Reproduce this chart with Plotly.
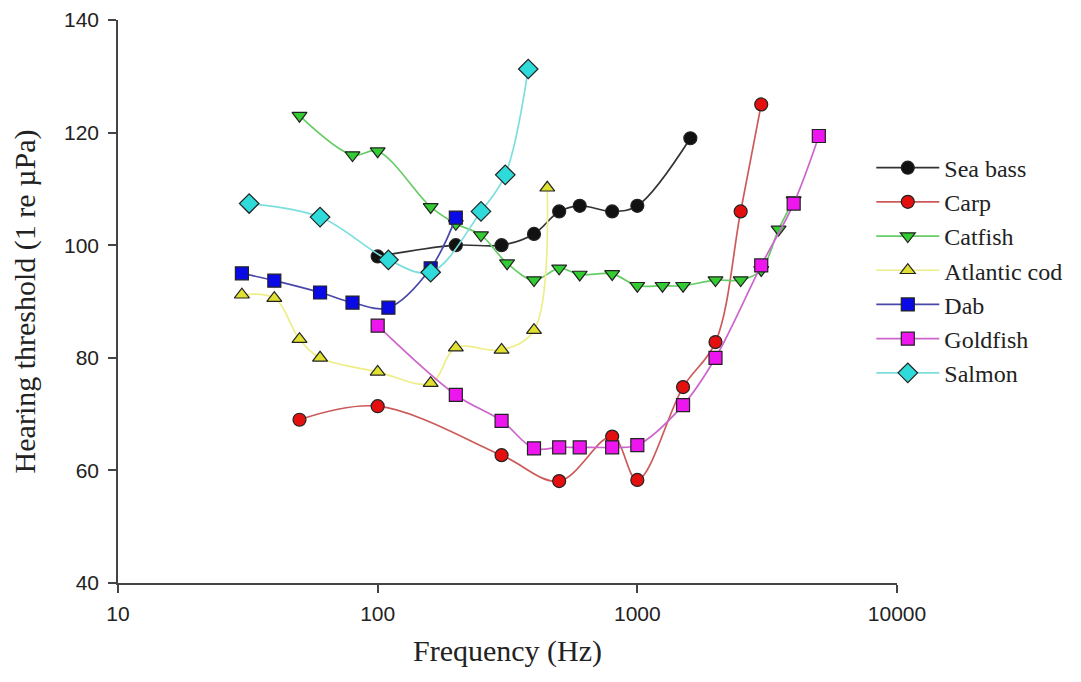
import plotly.graph_objects as go

# ---- data ----
seabass_f = [100, 200, 300, 400, 500, 600, 800, 1000, 1600]
seabass_t = [98, 100, 100, 102, 106, 107, 106, 107, 119]

carp_f = [50, 100, 300, 500, 800, 1000, 1500, 2000, 2500, 3000]
carp_t = [69, 71.4, 62.7, 58.1, 66, 58.3, 74.8, 82.8, 106, 125]

catfish_f = [50, 80, 100, 160, 200, 250, 315, 400, 500, 600, 800, 1000, 1250, 1500, 2000, 2500, 3000, 3500, 4000]
catfish_t = [123, 116, 116.7, 106.8, 103.8, 101.8, 96.8, 93.8, 95.9, 94.8, 94.9, 92.8, 92.8, 92.8, 93.8, 93.8, 95.6, 102.8, 108]

cod_f = [30, 40, 50, 60, 100, 160, 200, 300, 400, 450]
cod_t = [91.2, 90.6, 83.3, 80, 77.5, 75.5, 81.8, 81.4, 84.9, 110.2]

dab_f = [30, 40, 60, 80, 110, 160, 200]
dab_t = [95, 93.7, 91.6, 89.8, 88.9, 95.9, 104.9]

goldfish_f = [100, 200, 300, 400, 500, 600, 800, 1000, 1500, 2000, 3000, 4000, 5000]
goldfish_t = [85.7, 73.4, 68.8, 63.9, 64.1, 64.1, 64.1, 64.5, 71.6, 80, 96.4, 107.4, 119.4]

salmon_f = [32, 60, 110, 160, 250, 310, 380]
salmon_t = [107.4, 105, 97.4, 95.2, 106, 112.5, 131.3]

x_ticks = [10, 100, 1000, 10000]
y_ticks = [40, 60, 80, 100, 120, 140]

series = [
    ("Sea bass", seabass_f, seabass_t, "circle", "#111111", "#333333"),
    ("Carp", carp_f, carp_t, "circle", "#e41010", "#cc5a5a"),
    ("Catfish", catfish_f, catfish_t, "triangle-down", "#33cc33", "#66cc66"),
    ("Atlantic cod", cod_f, cod_t, "triangle-up", "#e0e030", "#eeee88"),
    ("Dab", dab_f, dab_t, "square", "#0a0ae6", "#4848a8"),
    ("Goldfish", goldfish_f, goldfish_t, "square", "#ee16ee", "#cc66cc"),
    ("Salmon", salmon_f, salmon_t, "diamond", "#2edada", "#7edede"),
]

fig = go.Figure()
for i, (name, xf, yt, sym, mc, lc) in enumerate(series):
    fig.add_trace(go.Scatter(
        x=xf, y=yt, name=name, mode="lines+markers",
        line=dict(color=lc, width=1.7, shape="spline", smoothing=1.0),
        marker=dict(symbol=sym, size=13 if sym != "diamond" else 15, color=mc,
                    line=dict(color="#222222", width=1.2)),
    ))

fig.update_layout(
    width=1081, height=682,
    paper_bgcolor="white", plot_bgcolor="white",
    margin=dict(l=110, r=192, t=12, b=107),
    showlegend=True,
    legend=dict(
        x=0.967, y=0.777, xanchor="left", yanchor="top",
        font=dict(family="Liberation Serif", size=24, color="#222222"),
        itemwidth=63, bgcolor="rgba(0,0,0,0)", traceorder="normal",
    ),
)
fig.update_xaxes(
    type="log", range=[1, 4], tickvals=x_ticks, ticktext=[str(v) for v in x_ticks],
    showgrid=False, zeroline=False, showline=True, linecolor="#444444", linewidth=1.5,
    ticks="outside", ticklen=8, tickwidth=1.5, tickcolor="#444444", ticklabelstandoff=3,
    tickfont=dict(family="Liberation Sans", size=21, color="#222222"), automargin=False,
    title=dict(text="Frequency (Hz)", font=dict(family="Liberation Serif", size=30, color="#222222"), standoff=16),
)
fig.update_yaxes(
    range=[40, 140], tickvals=y_ticks,
    showgrid=False, zeroline=False, showline=True, linecolor="#444444", linewidth=1.5,
    ticks="outside", ticklen=8, tickwidth=1.5, tickcolor="#444444", ticklabelstandoff=5,
    tickfont=dict(family="Liberation Sans", size=21, color="#222222"), automargin=False,
    title=dict(text="Hearing threshold (1 re µPa)", font=dict(family="Liberation Serif", size=30, color="#222222"), standoff=22),
)

fig.write_html("out.html")
